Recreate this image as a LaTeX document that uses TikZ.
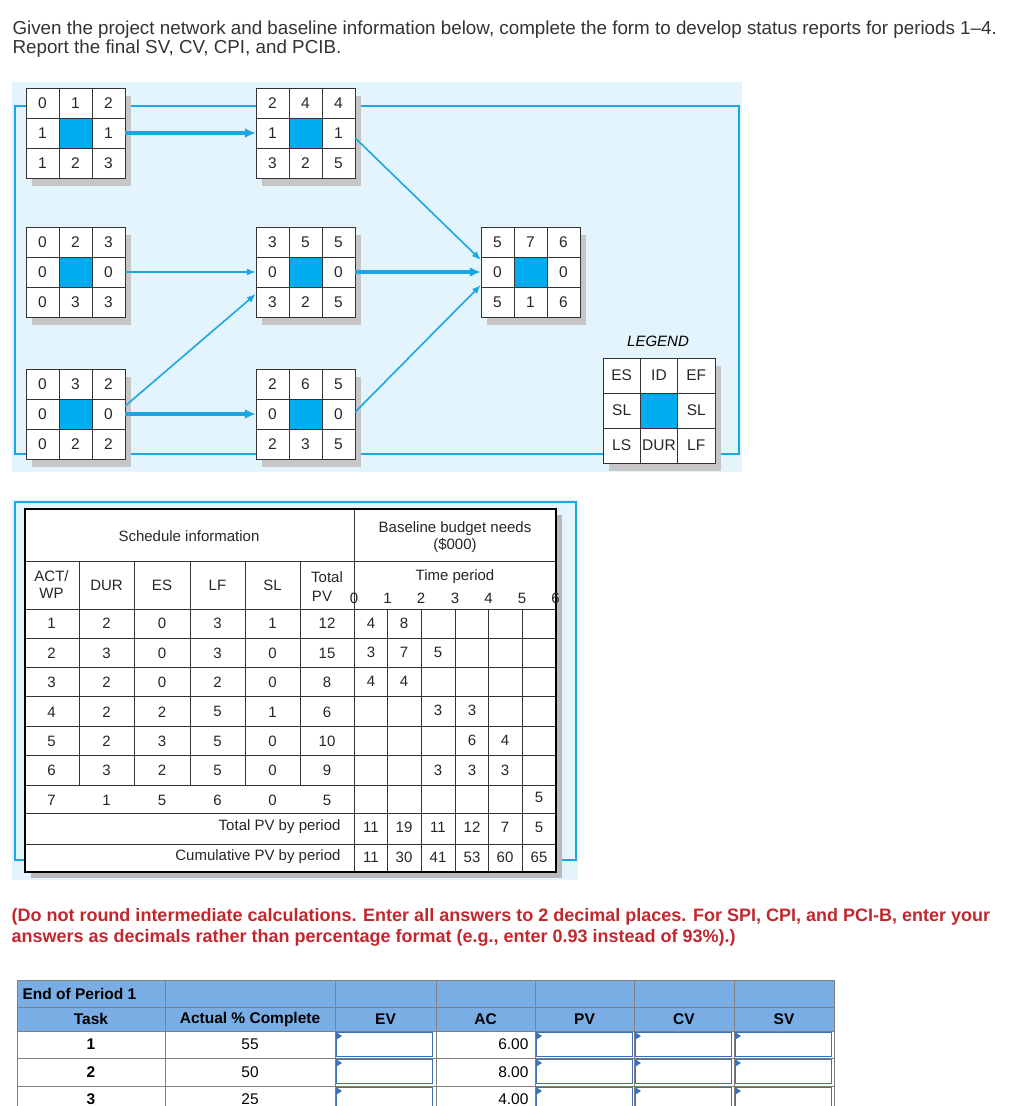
\documentclass[tikz,border=0pt]{standalone}
\usepackage{fontspec}
\setmainfont{Liberation Sans}
\usetikzlibrary{arrows.meta,calc}
\definecolor{bgblue}{HTML}{E4F4FC}
\definecolor{lineblue}{HTML}{1CA6E2}
\definecolor{cellblue}{HTML}{00AEEF}
\definecolor{hdrblue}{HTML}{79ADE4}
\definecolor{boxblue}{HTML}{3C70B8}
\definecolor{qred}{HTML}{C0282D}
\definecolor{qtext}{HTML}{333333}
\newcommand\nbox[9]{%
  \fill[gray!45] (6,8) rectangle (3*\cw+6,3*\chh+8);
  \fill[white] (0,0) rectangle (3*\cw,3*\chh);
  \fill[cellblue] (\cw,\chh) rectangle (2*\cw,2*\chh);
  \draw[black!80,line width=0.8pt] (0,0) rectangle (3*\cw,3*\chh)
     (\cw,0) -- (\cw,3*\chh) (2*\cw,0) -- (2*\cw,3*\chh)
     (0,\chh) -- (3*\cw,\chh) (0,2*\chh) -- (3*\cw,2*\chh);
  \node[netnum] at (0.5*\cw,0.5*\chh) {#2};
  \node[netnum] at (1.5*\cw,0.5*\chh) {#3};
  \node[netnum] at (2.5*\cw,0.5*\chh) {#4};
  \node[netnum] at (0.5*\cw,1.5*\chh) {#5};
  \node[netnum] at (2.5*\cw,1.5*\chh) {#6};
  \node[netnum] at (0.5*\cw,2.5*\chh) {#7};
  \node[netnum] at (1.5*\cw,2.5*\chh) {#8};
  \node[netnum] at (2.5*\cw,2.5*\chh) {#9};
  \node[inner sep=0,minimum width=3*\cw,minimum height=3*\chh] (#1) at (1.5*\cw,1.5*\chh) {};
}
\newcommand\inbox[2]{%
  \draw[boxblue,line width=1.4pt] (#1+1.5,#2+1.5) rectangle (#1+97.5,#2+25.5);
  \fill[boxblue] (#1+1.5,#2+1.5) -- (#1+7,#2+5) -- (#1+1.5,#2+8.5) -- cycle;
}
\begin{document}
\begin{tikzpicture}[x=1pt,y=-1pt,
  netnum/.style={font=\fontsize{15.5}{17}\selectfont,text=black!85},
  tb/.style={font=\fontsize{15}{17}\selectfont,text=black!85},
  bt/.style={font=\fontsize{15.5}{17}\selectfont},
  link/.style={lineblue,line width=1.6pt,-{Latex[length=9pt,width=7pt]}},
  crit/.style={lineblue,line width=3.2pt,-{Latex[length=11pt,width=10pt]}}]
\useasboundingbox (0,0) rectangle (1019,1106);
\fill[white] (0,0) rectangle (1019,1106);
% question
\node[anchor=west,text=qtext,font=\fontsize{18.8}{21}\selectfont] at (9,30) {Given the project network and baseline information below, complete the form to develop status reports for periods 1--4.};
\node[anchor=west,text=qtext,font=\fontsize{18.8}{21}\selectfont] at (9,49) {Report the final SV, CV, CPI, and PCIB.};
% network
\fill[bgblue] (12,82) rectangle (742,472);
\draw[lineblue,line width=1.6pt] (15,106) rectangle (739,454);
\def\cw{33}\def\chh{30}
\begin{scope}[shift={(26,88)}]\nbox{b1}{0}{1}{2}{1}{1}{1}{2}{3}\end{scope}
\begin{scope}[shift={(26,227)}]\nbox{b2}{0}{2}{3}{0}{0}{0}{3}{3}\end{scope}
\begin{scope}[shift={(26,369)}]\nbox{b3}{0}{3}{2}{0}{0}{0}{2}{2}\end{scope}
\begin{scope}[shift={(256,88)}]\nbox{b4}{2}{4}{4}{1}{1}{3}{2}{5}\end{scope}
\begin{scope}[shift={(256,227)}]\nbox{b5}{3}{5}{5}{0}{0}{3}{2}{5}\end{scope}
\begin{scope}[shift={(256,369)}]\nbox{b6}{2}{6}{5}{0}{0}{2}{3}{5}\end{scope}
\begin{scope}[shift={(481,227)}]\nbox{b7}{5}{7}{6}{0}{0}{5}{1}{6}\end{scope}
\def\cw{37.3}\def\chh{35}
\begin{scope}[shift={(603,358)}]\nbox{lg}{ES}{ID}{EF}{SL}{SL}{LS}{DUR}{LF}\end{scope}
\node[font=\fontsize{15}{17}\selectfont\itshape] (lgt) at (658,341) {LEGEND};
\draw[crit] (b1.east) -- (b4.west);
\draw[link] (b2.east) -- (b5.west);
\draw[link] ($(b3.east)+(0,-8)$) -- ($(b5.west)+(0,22)$);
\draw[crit] (b3.east) -- (b6.west);
\draw[link] ($(b4.east)+(0,5)$) -- ($(b7.west)+(0,-12)$);
\draw[crit] (b5.east) -- (b7.west);
\draw[link] ($(b6.east)+(0,-2)$) -- ($(b7.west)+(0,13)$);
% schedule table
\fill[bgblue] (12,500) rectangle (578,880);
\draw[lineblue,line width=1.6pt] (15,502) rectangle (576,860);
\fill[gray!55] (31,515) rectangle (562,878);
\fill[white] (24.5,509) rectangle (555.5,872);
\foreach \y in {561,609,638,667,696,726,755,785,813,844} \draw[black!80,line width=0.9pt] (24.5,\y) -- (555.5,\y);
\foreach \x in {79,134,190,245,300} \draw[black!80,line width=0.9pt] (\x,561) -- (\x,785);
\draw[black!80,line width=0.9pt] (354,509) -- (354,872);
\foreach \x in {387.5,421,455,488.5,522} \draw[black!80,line width=0.9pt] (\x,609) -- (\x,872);
\draw[black,line width=2pt] (24.5,509) rectangle (555.5,872);
\node[tb] at (189,536) {Schedule information};
\node[tb,align=center] at (455,537) {Baseline budget needs\\(\$000)};
\node[tb,align=center] at (51.5,585) {ACT/\\WP};
\node[tb] at (106.5,585) {DUR};
\node[tb] at (162,585) {ES};
\node[tb] at (217.5,585) {LF};
\node[tb] at (272.5,585) {SL};
\node[tb] at (327,577) {Total};
\node[tb] at (322,596) {PV};
\node[tb] at (455,577) {Time period};
\foreach \t/\x in {0/354,1/387.5,2/421,3/455,4/488.5,5/522,6/555.5} \node[tb] at (\x,598) {\t};
\foreach \r/\a/\b/\c/\d/\e [count=\i] in {1/2/0/3/1/12,2/3/0/3/0/15,3/2/0/2/0/8,4/2/2/5/1/6,5/2/3/5/0/10,6/3/2/5/0/9,7/1/5/6/0/5}{
  \pgfmathsetmacro\yy{609+29.4*(\i-0.5)}
  \node[tb] at (51.5,\yy) {\r};
  \node[tb] at (106.5,\yy) {\a};
  \node[tb] at (162,\yy) {\b};
  \node[tb] at (217.5,\yy) {\c};
  \node[tb] at (272.5,\yy) {\d};
  \node[tb] at (327,\yy) {\e};
}
\foreach \x/\y/\v in {371/623.5/4,404/623.5/8,371/652.5/3,404/652.5/7,438/652.5/5,371/681.5/4,404/681.5/4,
  438/710.5/3,472/710.5/3,472/740/6,505/740/4,438/770/3,472/770/3,505/770/3,539/797/5}
  \node[tb] at (\x,\y) {\v};
\node[tb,anchor=east] at (344,827) {Total PV by period};
\node[tb,anchor=east] at (344,857) {Cumulative PV by period};
\foreach \x/\a/\b in {371/11/11,404/19/30,438/11/41,472/12/53,505/7/60,539/5/65}{
  \node[tb] at (\x,827) {\a};
  \node[tb] at (\x,857) {\b};
}
% instruction
\node[anchor=west,text=qred,font=\fontsize{18}{21}\bfseries\selectfont,align=left] at (8,927) {(Do not round intermediate calculations. Enter all answers to 2 decimal places. For SPI, CPI, and PCI-B, enter your\\answers as decimals rather than percentage format (e.g., enter 0.93 instead of 93\%).)};
% status table
\fill[hdrblue] (17,980) rectangle (834,1031);
\foreach \y in {980,1007,1031,1058,1086} \draw[gray,line width=0.8pt] (17,\y) -- (834,\y);
\foreach \x in {17,165,335,436,535,634,734,834} \draw[gray,line width=0.8pt] (\x,980) -- (\x,1106);
\node[bt,anchor=west] at (19,993.5) {\bfseries End of Period 1};
\foreach \x/\t in {91/Task,250/Actual \% Complete,385.5/EV,485.5/AC,584.5/PV,684/CV,784/SV}
  \node[bt] at (\x,1019) {\bfseries \t};
\foreach \y/\k/\p/\a in {1044.5/1/55/6.00,1072/2/50/8.00,1099/3/25/4.00}{
  \node[bt] at (91,\y) {\bfseries \k};
  \node[bt] at (250,\y) {\p};
  \node[bt,anchor=east] at (532,\y) {\a};
}
\foreach \y in {1031,1058,1086} \foreach \x in {335,535,634,734} \inbox{\x}{\y};
\end{tikzpicture}
\end{document}
